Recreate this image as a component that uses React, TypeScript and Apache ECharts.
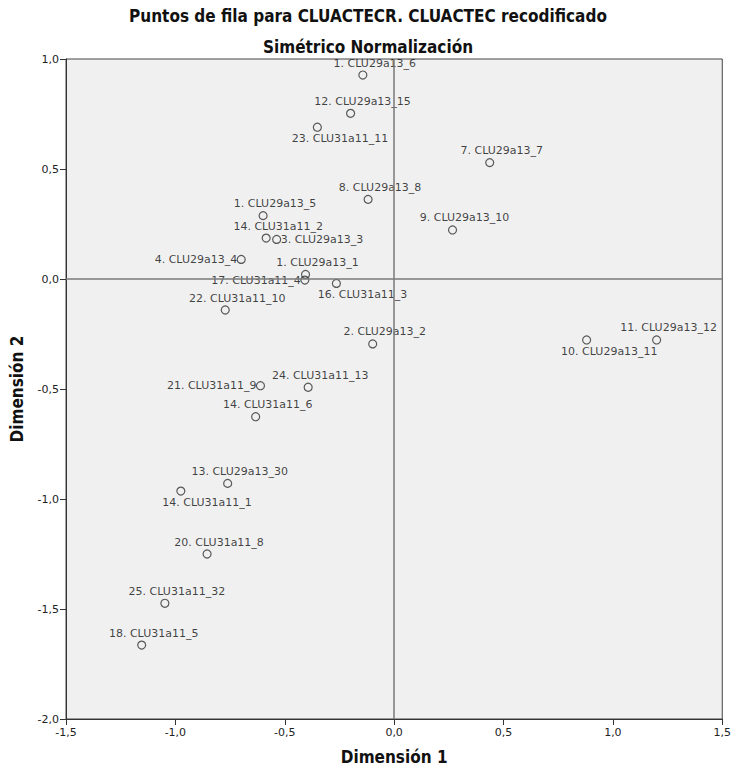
import React, { useEffect, useRef } from "react";
import * as echarts from "echarts";

const pointNames = [
  "1. CLU29a13_6", "12. CLU29a13_15", "23. CLU31a11_11", "7. CLU29a13_7", "8. CLU29a13_8",
  "1. CLU29a13_5", "14. CLU31a11_2", "3. CLU29a13_3", "9. CLU29a13_10", "4. CLU29a13_4",
  "1. CLU29a13_1", "17. CLU31a11_4", "16. CLU31a11_3", "22. CLU31a11_10", "2. CLU29a13_2",
  "21. CLU31a11_9", "24. CLU31a11_13", "14. CLU31a11_6", "13. CLU29a13_30", "14. CLU31a11_1",
  "20. CLU31a11_8", "25. CLU31a11_32", "18. CLU31a11_5", "10. CLU29a13_11", "11. CLU29a13_12",
];
const dim1 = [
  -0.143, -0.199, -0.351, 0.437, -0.119,
  -0.599, -0.585, -0.537, 0.267, -0.699,
  -0.405, -0.408, -0.264, -0.772, -0.098,
  -0.611, -0.393, -0.633, -0.761, -0.975,
  -0.855, -1.048, -1.154, 0.880, 1.200,
];
const dim2 = [
  0.927, 0.753, 0.690, 0.529, 0.362,
  0.288, 0.186, 0.180, 0.223, 0.089,
  0.021, -0.005, -0.020, -0.141, -0.295,
  -0.485, -0.492, -0.626, -0.929, -0.964,
  -1.250, -1.474, -1.664, -0.277, -0.277,
];
// label side: tr = above-right, b = below, l = left, r = right
const labelSide = [
  "tr", "tr", "b", "tr", "tr",
  "tr", "tr", "r", "tr", "l",
  "tr", "l", "b", "tr", "tr",
  "l", "tr", "tr", "tr", "b",
  "tr", "tr", "tr", "b", "tr",
];
const xTickMin = -1.5, xTickMax = 1.5, yTickMin = -2.0, yTickMax = 1.0, tickStep = 0.5;

const titleText = "Puntos de fila para CLUACTECR. CLUACTEC recodificado";
const subtitleText = "Simétrico Normalización";
const xName = "Dimensión 1";
const yName = "Dimensión 2";

const titleFont = "'Liberation Sans Narrow', 'DejaVu Sans Condensed', 'Roboto Condensed', Roboto, sans-serif";
const labelFont = "'DejaVu Sans', sans-serif";

const fmt = (v: number) => v.toFixed(1).replace(".", ",");

function labelFor(side: string) {
  const base: any = {
    show: true, position: "inside", formatter: "{b}", color: "#111",
    fontSize: 11, fontFamily: labelFont, verticalAlign: "middle",
  };
  if (side === "tr") return { ...base, align: "center", offset: [12, -12] };
  if (side === "b") return { ...base, align: "right", offset: [71, 11.5] };
  if (side === "l") return { ...base, align: "right", offset: [-4, 0] };
  return { ...base, align: "left", offset: [4, 0] };
}

export default function App() {
  const ref = useRef<HTMLDivElement>(null);
  useEffect(() => {
    if (!ref.current) return;
    const chart = echarts.init(ref.current, null, { renderer: "svg" });
    const data = pointNames.map((n, i) => ({
      name: n,
      value: [dim1[i], dim2[i]],
      label: labelFor(labelSide[i]),
    }));
    const headStyle = { fontSize: 17, fontWeight: "bold", color: "#111", fontFamily: titleFont };
    chart.setOption({
      animation: false,
      backgroundColor: "#ffffff",
      title: [
        { text: titleText, left: 363, top: 2, textAlign: "center", textStyle: headStyle },
        { text: subtitleText, left: 363, top: 33, textAlign: "center", textStyle: headStyle },
      ],
      grid: {
        left: 66, top: 59, width: 660, height: 660, show: true,
        backgroundColor: "#f0f0f0", borderColor: "#444", borderWidth: 1,
      },
      xAxis: {
        type: "value", min: xTickMin, max: xTickMax, interval: tickStep,
        name: xName, nameLocation: "middle", nameGap: 29,
        nameTextStyle: headStyle,
        axisLine: { show: true, onZero: false, lineStyle: { color: "#333", width: 1 } },
        axisTick: { show: true, length: 6, lineStyle: { color: "#333" } },
        axisLabel: { formatter: fmt, fontSize: 11, color: "#222", margin: 8, fontFamily: labelFont },
        splitLine: { show: false },
      },
      yAxis: {
        type: "value", min: yTickMin, max: yTickMax, interval: tickStep,
        name: yName, nameLocation: "middle", nameGap: 41, nameRotate: 90,
        nameTextStyle: headStyle,
        axisLine: { show: true, onZero: false, lineStyle: { color: "#333", width: 1 } },
        axisTick: { show: true, length: 6, lineStyle: { color: "#333" } },
        axisLabel: { formatter: fmt, fontSize: 11, color: "#222", margin: 7, fontFamily: labelFont },
        splitLine: { show: false },
      },
      series: [
        {
          type: "scatter",
          symbol: "circle",
          symbolSize: 8,
          itemStyle: { color: "rgba(0,0,0,0)", borderColor: "#333", borderWidth: 1.2 },
          data,
          markLine: {
            silent: true, symbol: "none", label: { show: false },
            lineStyle: { color: "#7a7a7a", width: 1.5, type: "solid" },
            data: [{ xAxis: 0 }, { yAxis: 0 }],
          },
          z: 3,
        },
      ],
    });
    return () => chart.dispose();
  }, []);
  return <div ref={ref} style={{ position: "absolute", left: 0, top: 0, width: 734, height: 771 }} />;
}
